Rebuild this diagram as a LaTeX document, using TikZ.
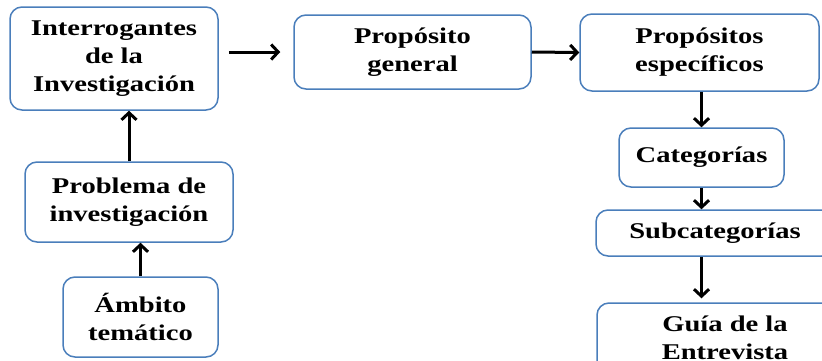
\documentclass[tikz,border=0pt]{standalone}
\usepackage{fontspec}
\setmainfont{Liberation Serif}[FakeStretch=1.27]
\usetikzlibrary{arrows.meta,calc}

\definecolor{boxline}{HTML}{4A7EBB}

\tikzset{
  stage/.style={draw=boxline, line width=1.5pt, rounded corners=12pt,
    fill=white, align=center, inner sep=0pt,
    font=\fontsize{22.5pt}{28pt}\selectfont\bfseries},
  flow/.style={line width=3pt, black,
    -{Straight Barb[length=7pt,width=15pt]}}
}

\begin{document}
\begin{tikzpicture}[x=1pt,y=-1pt]
  \useasboundingbox (0,0) rectangle (822,360);
  \clip (0,0) rectangle (822,360);

  % left column
  \node[stage, minimum width=208pt, minimum height=103pt] (q) at (114,58.5)
    {Interrogantes\\de la\\Investigación};
  \node[stage, minimum width=208pt, minimum height=80pt] (prob) at (129,202)
    {Problema de\\investigación};
  \node[stage, minimum width=155pt, minimum height=80pt] (amb) at (140.5,317)
    {Ámbito\\temático};

  % top row and right column
  \node[stage, minimum width=237pt, minimum height=74pt] (pg) at (412.5,52)
    {Propósito\\general};
  \node[stage, minimum width=239pt, minimum height=77pt] (pe) at (699.5,52.5)
    {Propósitos\\específicos};
  \node[stage, minimum width=165pt, minimum height=59pt] (cat) at (701.5,157.5)
    {Categorías};
  \node[stage, minimum width=238pt, minimum height=46pt] (sub) at (715,233)
    {Subcategorías};
  \node[stage, minimum width=256pt, minimum height=70pt] (guia) at (725,338)
    {Guía de la\\Entrevista};

  % connectors
  \draw[flow] (amb.north) -- (amb.north |- prob.south);
  \draw[flow] (prob.north) -- (prob.north |- q.south);
  \draw[flow, shorten <=10pt, shorten >=13pt] (q.east |- pg.west) -- (pg.west);
  \draw[flow] (pg.east) -- (pe.west);
  \draw[flow] (pe.south -| cat.north) -- (cat.north);
  \draw[flow] (cat.south) -- (cat.south |- sub.north);
  \draw[flow, shorten >=4pt] (sub.south -| cat.south) -- (cat.south |- guia.north);
\end{tikzpicture}
\end{document}
